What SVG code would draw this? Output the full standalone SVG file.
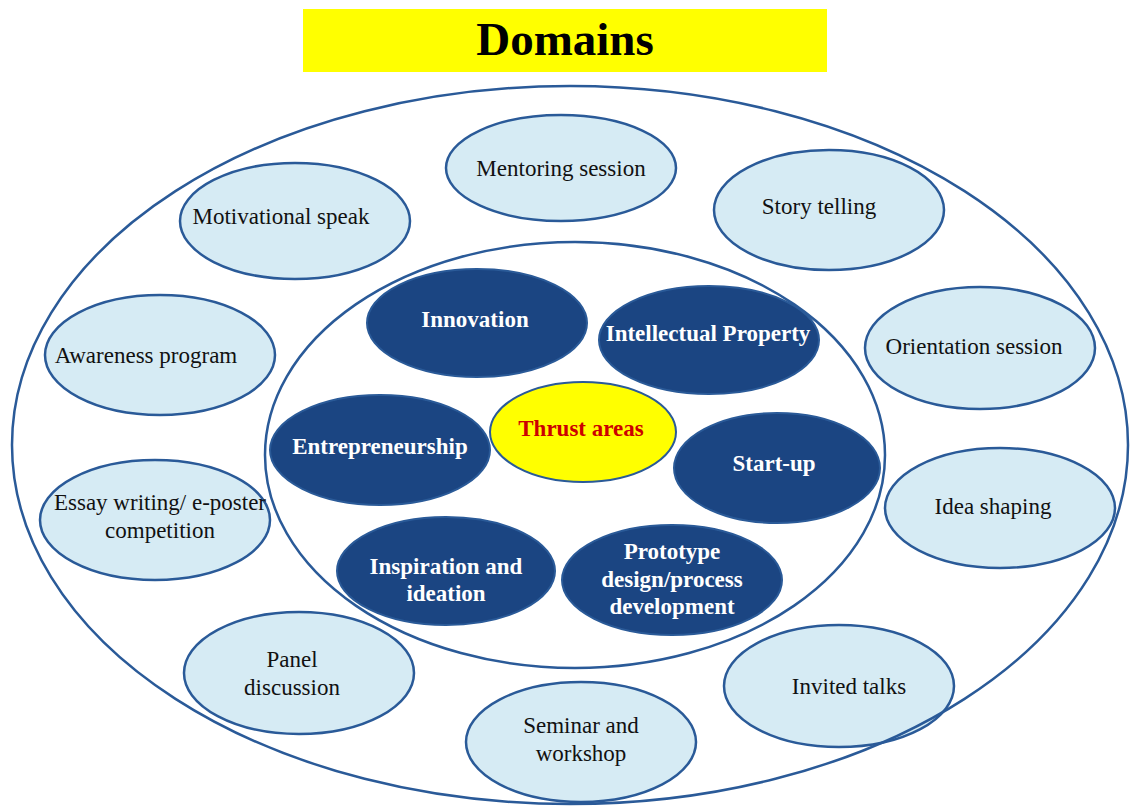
<svg xmlns="http://www.w3.org/2000/svg" width="1130" height="807" viewBox="0 0 1130 807">
<style>
.bg{fill:#ffffff}
.ring{fill:none;stroke:#2a5a98;stroke-width:2.5}
.lt{fill:#d6ebf4;stroke:#2a5a98;stroke-width:2.5}
.dk{fill:#1b4582;stroke:#2a5a98;stroke-width:2}
.yl{fill:#ffff00;stroke:#2a5a98;stroke-width:2}
.t{font-family:"Liberation Serif","Times New Roman",serif;font-size:23px;fill:#111;text-anchor:middle}
.tb{font-family:"Liberation Serif","Times New Roman",serif;font-size:23px;font-weight:bold;fill:#ffffff;text-anchor:middle}
.tr{font-family:"Liberation Serif","Times New Roman",serif;font-size:23px;font-weight:bold;fill:#cc0000;text-anchor:middle}
</style>
<rect class="bg" x="0" y="0" width="1130" height="807"/>
<g id="title">
<rect x="303" y="9" width="524" height="63" fill="#ffff00"/>
<text x="565" y="55" font-family="Liberation Serif, Times New Roman, serif" font-size="47" font-weight="bold" text-anchor="middle" fill="#000">Domains</text>
</g>
<g id="mentoring"><ellipse class="lt" cx="561" cy="168" rx="115" ry="53"/><text class="t" x="561" y="176">Mentoring session</text></g>
<g id="motivational"><ellipse class="lt" cx="295" cy="221" rx="115" ry="58"/><text class="t" x="281" y="224">Motivational speak</text></g>
<g id="story"><ellipse class="lt" cx="829" cy="210" rx="115" ry="60"/><text class="t" x="819" y="214">Story telling</text></g>
<g id="awareness"><ellipse class="lt" cx="160" cy="355" rx="115" ry="60"/><text class="t" x="146" y="363">Awareness program</text></g>
<g id="orientation"><ellipse class="lt" cx="980" cy="348" rx="115" ry="61"/><text class="t" x="974" y="354">Orientation session</text></g>
<g id="essay"><ellipse class="lt" cx="155" cy="520" rx="115" ry="60"/><text class="t" x="160" y="510">Essay writing/ e-poster</text><text class="t" x="160" y="538">competition</text></g>
<g id="idea"><ellipse class="lt" cx="1000" cy="508" rx="115" ry="60"/><text class="t" x="993" y="514">Idea shaping</text></g>
<g id="panel"><ellipse class="lt" cx="299" cy="673" rx="115" ry="61"/><text class="t" x="292" y="667">Panel</text><text class="t" x="292" y="695">discussion</text></g>
<g id="invited"><ellipse class="lt" cx="839" cy="686" rx="115" ry="61"/><text class="t" x="849" y="694">Invited talks</text></g>
<g id="seminar"><ellipse class="lt" cx="581" cy="742" rx="115" ry="60"/><text class="t" x="581" y="733">Seminar and</text><text class="t" x="581" y="761">workshop</text></g>
<g id="innovation"><ellipse class="dk" cx="477" cy="323" rx="110" ry="54"/><text class="tb" x="475" y="327">Innovation</text></g>
<g id="ip"><ellipse class="dk" cx="709" cy="340" rx="110" ry="54"/><text class="tb" x="708" y="341">Intellectual Property</text></g>
<g id="entrepreneurship"><ellipse class="dk" cx="380" cy="450" rx="110" ry="55"/><text class="tb" x="380" y="454">Entrepreneurship</text></g>
<g id="startup"><ellipse class="dk" cx="777" cy="468" rx="103" ry="55"/><text class="tb" x="774" y="471">Start-up</text></g>
<g id="inspiration"><ellipse class="dk" cx="446" cy="571" rx="109" ry="54"/><text class="tb" x="446" y="574">Inspiration and</text><text class="tb" x="446" y="601">ideation</text></g>
<g id="prototype"><ellipse class="dk" cx="672" cy="580" rx="110" ry="55"/><text class="tb" x="672" y="559">Prototype</text><text class="tb" x="672" y="587">design/process</text><text class="tb" x="672" y="614">development</text></g>
<g id="thrust"><ellipse class="yl" cx="583" cy="432" rx="93" ry="50"/><text class="tr" x="581" y="436">Thrust areas</text></g>
<g id="containers">
<ellipse class="ring" cx="570" cy="445" rx="558" ry="359"/>
<ellipse class="ring" cx="575" cy="455" rx="310" ry="213"/>
</g>
<g id="connectors"/>
</svg>
